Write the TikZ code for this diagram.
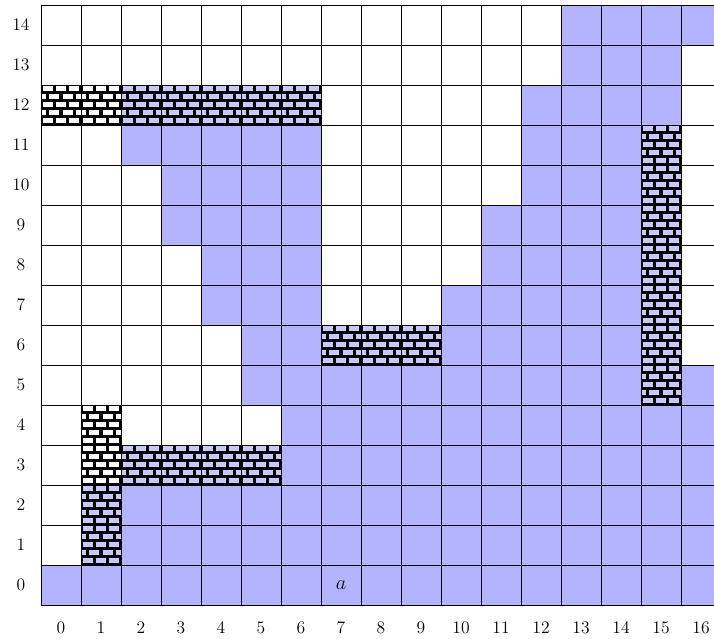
\documentclass[tikz,border=0pt]{standalone}
\definecolor{cellblue}{RGB}{179,179,255}
\definecolor{brickblue}{RGB}{200,200,255}
\newcommand\brickcell[3]{%
  \begin{scope}
    \clip (#1,#2) rectangle ++(1,1);
    \fill[black] (#1,#2) rectangle ++(1,1);
    \foreach \j in {0,...,4}{
      \pgfmathsetmacro\off{mod(\j,2)/6}
      \foreach \k in {-1,0,1,2,3}{
        \fill[#3] ({#1+\k/3+\off+0.045},{#2+\j*0.2+0.05}) rectangle ({#1+(\k+1)/3+\off-0.045},{#2+(\j+1)*0.2-0.02});
      }
    }
  \end{scope}}
\begin{document}
\begin{tikzpicture}[x=1cm,y=1cm,
  gridline/.style={black,line width=0.6pt},
  lab/.style={font=\fontsize{12.5}{15}\selectfont,inner sep=0pt}]
\useasboundingbox (-1.025,-0.85) rectangle (16.825,15.125);
\clip (-1.025,-0.85) rectangle (16.825,15.125);
% blue cells: row / list of (from,to)
\foreach \r/\a/\b in {0/0/16,1/1/16,2/1/16,3/2/16,4/6/16,5/5/16,
  6/5/15,7/4/6,7/10/15,8/4/6,8/11/15,9/3/6,9/11/15,10/3/6,10/12/15,
  11/2/6,11/12/15,12/2/6,12/12/15,13/13/15,14/13/16}{
  \fill[cellblue] (\a,\r) rectangle (\b+1,\r+1);
}
% walls on blue
\foreach \x/\y in {2/12,3/12,4/12,5/12,6/12,7/6,8/6,9/6,
  15/5,15/6,15/7,15/8,15/9,15/10,15/11,1/1,1/2,2/3,3/3,4/3,5/3}{
  \brickcell{\x}{\y}{brickblue}
}
% walls on white
\foreach \x/\y in {0/12,1/12,1/3,1/4}{
  \brickcell{\x}{\y}{white}
}
\draw[gridline] (0,0) grid (17,15);
\foreach \i in {0,...,14}{
  \node[lab] (r\i) at (-0.5,\i+0.5) {\i};
}
\foreach \i in {0,...,16}{
  \node[lab] (c\i) at (\i+0.5,-0.575) {\i};
}
\node[lab,font=\fontsize{15}{18}\selectfont] (a) at (7.5,0.5) {$a$};
\end{tikzpicture}
\end{document}
